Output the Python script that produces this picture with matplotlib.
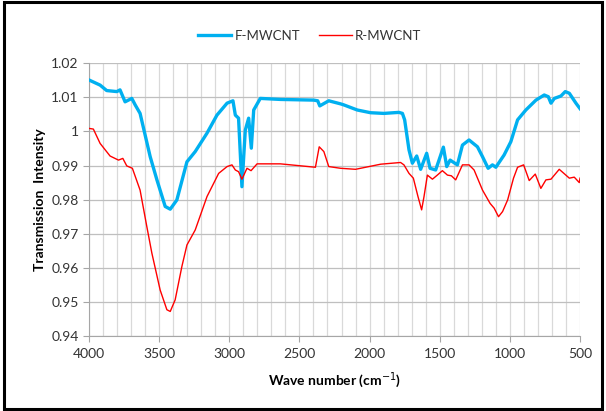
import numpy as np
import matplotlib.pyplot as plt
from matplotlib.patches import Rectangle

# F-MWCNT spectrum (wave number, transmission)
f_wn = [4000, 3921, 3874, 3802, 3779, 3743, 3695, 3671, 3636, 3564, 3516, 3457, 3421,
        3374, 3302, 3243, 3159, 3088, 3016, 2974, 2957, 2934, 2910, 2886, 2862, 2843,
        2826, 2779, 2636, 2398, 2370, 2355, 2291, 2207, 2184, 2088, 1993, 1898, 1791,
        1766, 1750, 1719, 1695, 1664, 1636, 1593, 1569, 1529, 1505, 1474, 1450, 1426,
        1374, 1338, 1291, 1231, 1195, 1155, 1124, 1100, 1041, 993, 945, 886, 814, 755,
        726, 707, 683, 636, 605, 576, 529, 500]
f_val = [1.0151, 1.0136, 1.0120, 1.0117, 1.0122, 1.0087, 1.0097, 1.0078, 1.0053, 0.9926,
         0.9858, 0.9780, 0.9772, 0.9799, 0.9911, 0.9941, 0.9995, 1.0048, 1.0083, 1.0090,
         1.0048, 1.0039, 0.9838, 1.0004, 1.0039, 0.9951, 1.0063, 1.0097, 1.0094, 1.0092,
         1.0090, 1.0075, 1.0090, 1.0081, 1.0078, 1.0063, 1.0055, 1.0053, 1.0056, 1.0053,
         1.0034, 0.9946, 0.9907, 0.9928, 0.9889, 0.9936, 0.9892, 0.9887, 0.9916, 0.9954,
         0.9897, 0.9916, 0.9902, 0.9960, 0.9975, 0.9955, 0.9926, 0.9892, 0.9902, 0.9895,
         0.9931, 0.9970, 1.0034, 1.0063, 1.0092, 1.0107, 1.0102, 1.0083, 1.0097, 1.0104,
         1.0117, 1.0112, 1.0083, 1.0067]

# R-MWCNT spectrum
r_wn = [4000, 3969, 3921, 3850, 3790, 3759, 3731, 3691, 3636, 3588, 3552, 3493, 3445,
        3421, 3386, 3338, 3302, 3243, 3159, 3076, 3016, 2981, 2957, 2934, 2910, 2874,
        2845, 2802, 2636, 2386, 2359, 2326, 2291, 2207, 2100, 1921, 1779, 1755, 1719,
        1688, 1655, 1629, 1612, 1588, 1552, 1517, 1481, 1445, 1417, 1386, 1338, 1291,
        1255, 1195, 1141, 1112, 1081, 1052, 1016, 974, 945, 902, 862, 819, 779, 743,
        707, 648, 576, 541, 505, 500]
r_val = [1.0009, 1.0007, 0.9965, 0.9928, 0.9916, 0.9921, 0.9899, 0.9892, 0.9828, 0.9721,
         0.9643, 0.9535, 0.9477, 0.9472, 0.9506, 0.9604, 0.9667, 0.9711, 0.9809, 0.9877,
         0.9897, 0.9902, 0.9887, 0.9882, 0.9860, 0.9892, 0.9885, 0.9905, 0.9905, 0.9895,
         0.9955, 0.9941, 0.9897, 0.9892, 0.9889, 0.9904, 0.9909, 0.9902, 0.9877, 0.9863,
         0.9809, 0.9770, 0.9809, 0.9872, 0.9860, 0.9872, 0.9885, 0.9872, 0.9870, 0.9858,
         0.9902, 0.9902, 0.9887, 0.9828, 0.9789, 0.9775, 0.9750, 0.9765, 0.9799, 0.9863,
         0.9895, 0.9902, 0.9856, 0.9875, 0.9833, 0.9858, 0.9860, 0.9889, 0.9863, 0.9866,
         0.9850, 0.9863]

x_ticks = [4000, 3500, 3000, 2500, 2000, 1500, 1000, 500]
y_ticks = [0.94, 0.95, 0.96, 0.97, 0.98, 0.99, 1.00, 1.01, 1.02]
y_labels = ["0.94", "0.95", "0.96", "0.97", "0.98", "0.99", "1", "1.01", "1.02"]

plt.rcParams['font.family'] = ['Lato', 'DejaVu Sans']

fig = plt.figure(figsize=(6.06, 4.11), dpi=100)
ax = fig.add_axes([0.1469, 0.1825, 0.8102, 0.6635])

ax.plot(f_wn, f_val, color='#00B0F0', linewidth=2.4, label='F-MWCNT', zorder=3)
ax.plot(r_wn, r_val, color='#FF0000', linewidth=1.0, label='R-MWCNT', zorder=4)

ax.set_xlim(4000, 500)
ax.set_ylim(0.94, 1.02)
ax.set_xticks(x_ticks)
ax.set_xticks(np.arange(500, 4001, 100), minor=True)
ax.set_yticks(y_ticks)
ax.set_yticklabels(y_labels)

ax.grid(True, which='minor', axis='x', color='#D9D9D9', linewidth=0.9)
ax.grid(True, which='major', axis='x', color='#D9D9D9', linewidth=0.9)
ax.grid(True, which='major', axis='y', color='#BFBFBF', linewidth=0.9)
ax.set_axisbelow(True)

for side in ['top', 'right']:
    ax.spines[side].set_visible(False)
ax.spines['left'].set_color('#A6A6A6')
ax.spines['bottom'].set_color('#A6A6A6')
ax.tick_params(axis='both', which='major', color='#A6A6A6', length=4,
               labelsize=10, labelcolor='#333333')
ax.tick_params(axis='x', which='minor', length=0)
ax.tick_params(axis='x', pad=5)

ax.set_xlabel('Wave number (cm$^{-1}$)', fontsize=10, fontweight='bold', labelpad=7)
ax.set_ylabel('Transmission  Intensity', fontsize=10, fontweight='bold', labelpad=4)

ax.legend(loc='center', bbox_to_anchor=(0.45, 1.1), ncol=2, frameon=False,
          fontsize=9.5, handlelength=2.5, columnspacing=1.4, handletextpad=0.25,
          labelcolor='#333333')

# black frame around the whole figure
fig.patches.append(Rectangle((0.006, 0.006), 0.988, 0.988, transform=fig.transFigure,
                             fill=False, edgecolor='black', linewidth=2.2))

plt.savefig('out.png', dpi=100)
